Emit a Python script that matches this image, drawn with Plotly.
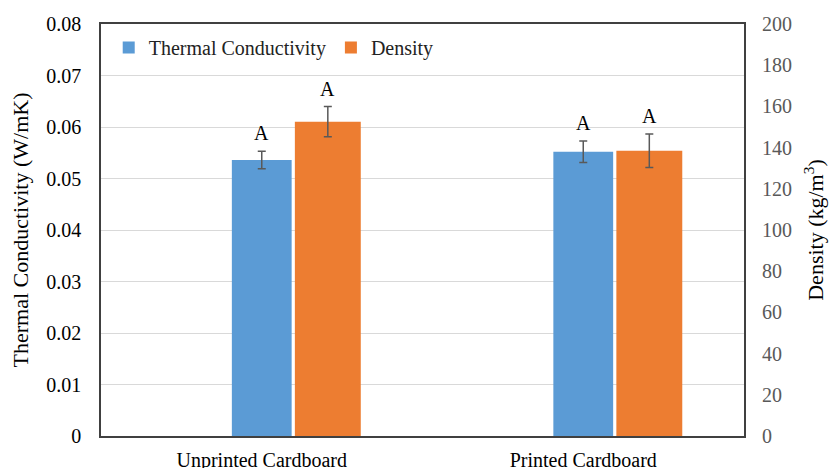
import plotly.graph_objects as go

categories = ["Unprinted Cardboard", "Printed Cardboard"]
thermal_conductivity = [0.0536, 0.0552]
thermal_conductivity_err = [0.0017, 0.0021]
density = [152.6, 138.5]
density_err = [7.3, 8.1]
tc_letters = ["A", "A"]
density_letters = ["A", "A"]

FONT = "Liberation Serif, Times New Roman, serif"
BLUE = "#5b9bd5"
ORANGE = "#ed7d31"
ERR = "#595959"

fig = go.Figure()
fig.add_trace(go.Bar(
    x=categories, y=thermal_conductivity, name="Thermal Conductivity",
    marker=dict(color=BLUE, line=dict(width=0)),
    width=0.186, offset=-0.093,
    error_y=dict(type="data", array=thermal_conductivity_err, color=ERR, thickness=1.5, width=4),
    yaxis="y",
))
fig.add_trace(go.Bar(
    x=categories, y=density, name="Density",
    marker=dict(color=ORANGE, line=dict(width=0)),
    width=0.205, offset=0.103,
    error_y=dict(type="data", array=density_err, color=ERR, thickness=1.5, width=4),
    yaxis="y2",
))

annotations = []
for i, c in enumerate(categories):
    annotations.append(dict(
        x=c, y=thermal_conductivity[i] + thermal_conductivity_err[i], xref="x", yref="y",
        text=tc_letters[i], showarrow=False, yanchor="bottom", yshift=5,
        font=dict(family=FONT, size=20, color="#000000"),
    ))
    annotations.append(dict(
        x=c, y=density[i] + density_err[i], xref="x", yref="y2",
        text=density_letters[i], showarrow=False, yanchor="bottom", yshift=5, xshift=66,
        font=dict(family=FONT, size=20, color="#000000"),
    ))

fig.update_layout(
    width=832, height=468,
    margin=dict(l=101, r=88, t=24, b=32, autoexpand=False),
    paper_bgcolor="white", plot_bgcolor="white",
    barmode="overlay",
    font=dict(family=FONT, size=20, color="#000000"),
    showlegend=True,
    legend=dict(
        x=0.012, y=0.99, xanchor="left", yanchor="top", orientation="h",
        bgcolor="rgba(0,0,0,0)", font=dict(family=FONT, size=20, color="#222222"),
        itemwidth=30, tracegroupgap=0,
    ),
    xaxis=dict(
        type="category", range=[-0.5, 1.5], automargin=False,
        showgrid=False, showline=True, linecolor="#404040", linewidth=1.5, mirror=True,
        ticks="", ticklabelstandoff=5,
        tickfont=dict(family=FONT, size=20, color="#000000"),
    ),
    yaxis=dict(
        range=[0, 0.08], dtick=0.01, tickformat="", automargin=False,
        showgrid=True, gridcolor="#d9d9d9", gridwidth=1,
        showline=True, linecolor="#404040", linewidth=1.5, mirror=True,
        zeroline=False, ticks="", ticklabelstandoff=14,
        tickfont=dict(family=FONT, size=20, color="#000000"),
        title=dict(text="Thermal Conductivity (W/mK)", font=dict(family=FONT, size=22, color="#000000"), standoff=12),
    ),
    yaxis2=dict(
        range=[0, 200], dtick=20, overlaying="y", side="right", automargin=False,
        showgrid=False, showline=False, zeroline=False, ticks="", ticklabelstandoff=17,
        tickfont=dict(family=FONT, size=20, color="#595959"),
        title=dict(text="Density (kg/m<sup>3</sup>)", font=dict(family=FONT, size=22, color="#000000"), standoff=16),
    ),
    annotations=annotations,
)

fig.write_html(
    "out.html",
    config={"displayModeBar": False},
    post_script="document.body.style.margin='0';document.body.style.padding='0';",
)
